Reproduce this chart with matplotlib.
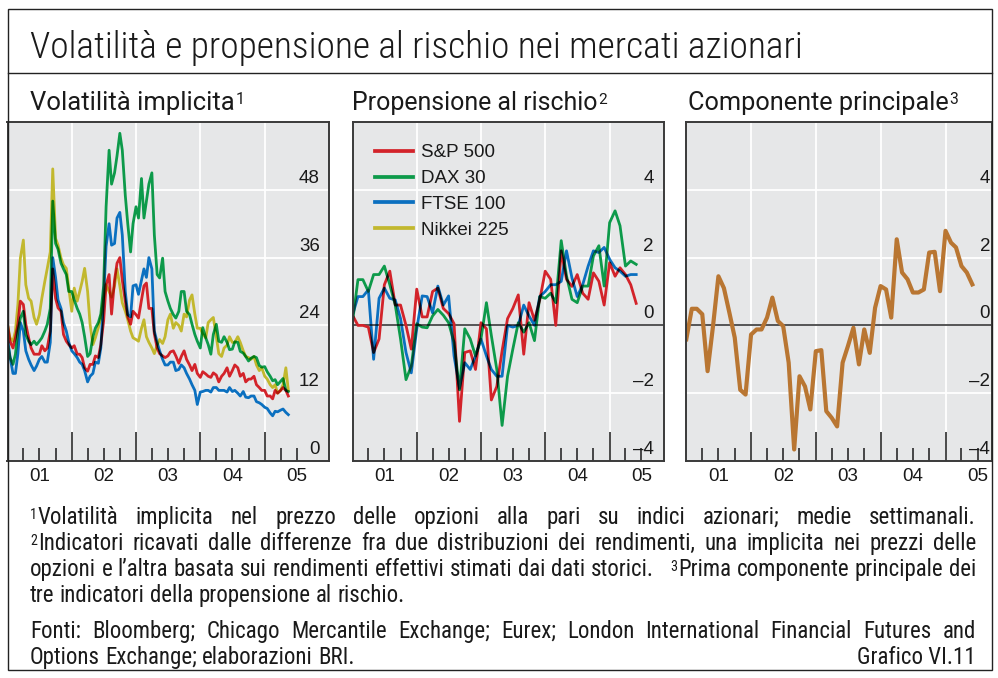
import numpy as np
import pandas as pd
import matplotlib
matplotlib.use("Agg")
import matplotlib.pyplot as plt
import matplotlib.dates as mdates
import matplotlib.transforms as mtransforms
import matplotlib.cbook as cbook
from matplotlib.ticker import FixedLocator
from matplotlib.patches import Rectangle
from matplotlib.lines import Line2D
from matplotlib import font_manager as fm

W, H = 998, 678

# ---------------- data ----------------
vol_dates = pd.date_range("2001-01-01", periods=106, freq="SMS")
sp_vol = [24.2, 21.2, 20, 21.8, 24.2, 28.3, 27.7, 24.2, 21.8, 20, 18.9, 18.9, 18.9, 20.4, 19.5, 20, 23, 34, 28.8, 27.1, 26.5, 22.4, 21.2, 20.6,
          20, 20.4, 18.9, 18.9, 18.3, 16.5, 15.9, 17.1, 17.1, 18.6, 18.3, 20.6, 24.8, 31.2, 33,
          26, 32, 35, 36, 32, 28.3, 25.5, 24.2, 26.5, 25.9, 25.3, 28.5, 31, 31.5, 27, 27, 22.5, 20, 19, 18.6,
          18.3, 18.6, 19.3, 19.5, 18.6, 17.3, 18.5, 19.5, 18, 17, 16, 17.1, 15.5, 14.8, 15.8, 15.4, 15, 14.8, 15.6, 15.2, 14, 15,
          15.5, 16.5, 15, 16, 17, 16.5, 15, 15.5, 14, 14.5, 14.5, 15, 13.5, 13, 12.5, 12.5, 11.5, 11.5, 11, 12.5, 12, 12.5, 13, 12.5, 11.5]
dax_vol = [21, 18.3, 17.1, 18.9, 23, 25.3, 26.5, 22.4, 21.2, 20.6, 21.2, 20.6, 21.2, 21.8, 23, 24.2, 27, 46, 38.5, 37.5, 35, 34, 33, 30,
           30, 28.5, 27, 26, 24.5, 22, 18.5, 19, 22, 23.5, 24.5, 26, 31, 45, 55,
           49, 51, 54, 58, 55, 47, 42, 37, 42, 45, 43, 50, 43, 46, 49, 51,
           40, 33, 32.4, 35.9, 30, 28.3, 27, 25.9, 25.3, 26.5, 30, 30, 26.5, 25.9, 24.2, 22.4, 21.2, 20, 23.6, 21.8, 20.6, 18.9, 22.4, 24.2, 21.2, 21,
           22, 21, 19.7, 19.8, 21.1, 21, 19.4, 19.1, 18.5, 17.7, 18.2, 18.5, 18.3, 16.9, 16.6, 16.7, 15.8, 15, 14.2, 14.4, 13.5, 14.1, 14.6, 12.5, 12.3]
ftse_vol = [21.8, 18.5, 15.5, 15.5, 19, 24.5, 23, 19.5, 18, 17, 16, 16.8, 18, 18.5, 17.5, 17.5, 21, 36, 32.5, 28.5, 27, 24.5, 23, 21,
            19.5, 19, 18.3, 17.5, 17.1, 16, 14, 15, 15.5, 17.5, 17.3, 20, 29, 38, 42,
            38.2, 38.5, 43, 44, 40, 30, 25.9, 25.5, 31, 31.2, 29.5, 32, 34, 32.5, 36, 34, 23,
            21, 19.5, 18, 17, 17, 17.5, 17.5, 16, 16.2, 17, 16.5, 15.5, 14.5, 13.5, 12.5, 10, 12.2, 12.3, 12.5, 12.5, 12.2, 13, 13, 12.5, 12.5,
            12.5, 12.2, 13, 12.3, 12.5, 12, 11.5, 12.3, 11.3, 11.2, 11.5, 11.5, 10.5, 10.3, 10, 9.5, 9.3, 8.5, 8, 8.8, 8.7, 9, 9.2, 8.6, 8.2]
nikkei_vol = [24.2, 21.8, 21.2, 23, 27.7, 35.9, 39.1, 31.2, 28.8, 28.3, 25.4, 24.2, 25.9, 28.8, 31.8, 34.1, 37, 51.7, 39.4, 38.2, 35.9, 34.7, 34.1, 30.6,
              26.5, 30.6, 28.3, 30, 31.8, 34.1, 30, 24.2, 20.6, 21.8, 23.6, 25.4, 28.8, 31.2,
              30, 29, 31, 34, 31, 28, 26.5, 25, 23, 21.8, 21.5, 21.2, 23.5, 25, 22, 21, 20, 19, 20.5, 21.5,
              20.8, 22, 25, 26, 23.5, 24.5, 24, 23, 26, 25.5, 28.5, 29.4, 26, 23.5, 23.5, 22.5, 21.8, 24.5, 25, 25.4,
              22, 19, 18.5, 20, 20.5, 22, 21, 21, 22, 21, 19.5, 18.5, 18.3, 18, 18.5, 17, 16, 16.5, 15, 14.5,
              13.5, 13, 13.5, 12, 12.5, 13.5, 16.5, 12.5]

risk_dates = pd.date_range("2001-01-01", periods=54, freq="MS")
sp_risk = [0.3, 0.0, 0.0, -0.05, -0.8, -0.4, 1.2, 1.6, 0.6, 0.6, 0.0, -0.7, 1.07, 0.25, 0.25, 1.0, 1.1, 0.5, 0.35, 0.05,
           -2.83, -0.8, -0.75, -1.3, 0.08, -0.1, -2.2, -1.8,
           -0.75, 0.2, 0.5, 0.9, -0.85, 0.67, 0.15, 0.75, 1.6, 1.36, 0.0, 2.2, 1.36, 1.15, 1.5, 0.95, 0.77, 1.55, 1.3, 0.6,
           1.85, 1.45, 1.7, 1.5, 1.2, 0.65]
dax_risk = [0.1, 1.35, 1.35, 1.0, 1.5, 1.5, 1.75, 1.2, 0.6, -0.4, -1.6, -1.2, 0.05, -0.05, -0.07, 0.28, 0.47, 0.3, 0.08, -0.5,
            -1.9, -0.1, -0.4, -0.9, -0.4, 0.67, -0.3, -1.3, -2.95, -1.5, -0.7, 0.08, -0.2, 0.08, -0.45, 0.85, 0.8, 0.95, 0.67,
            2.5, 1.46, 0.77, 0.67, 1.16, 1.16, 2.05, 2.35, 1.16, 3.03, 3.38, 2.94, 1.75, 1.9, 1.8]
ftse_risk = [0.3, 0.85, 0.85, 1.05, -1.0, 0.8, 1.1, 0.8, 0.75, 0.2, -0.8, -1.4, -0.1, 0.87, 0.85, 0.37, 1.16, 0.6, 0.87, -0.9,
             -1.85, -1.1, -1.3, -0.9, -0.4, -0.9, -1.3, -1.5, -1.5, 0.0, -0.05, 0.0, 0.6, 0.28, 0.0, 0.85, 1.0, 1.2, 1.2,
             1.3, 2.2, 1.4, 0.85, 1.2, 1.75, 2.2, 2.15, 2.3, 1.95, 1.7, 1.6, 1.45, 1.5, 1.5]
first_component = [-0.41, 0.49, 0.49, 0.33, -1.35, 0.0, 1.45, 1.1, 0.37, -0.36, -1.9, -2.04, -0.27, -0.12, -0.12, 0.23, 0.82, 0.13,
                   -0.02, -1.1, -3.66, -1.5, -1.8, -2.48, -0.76, -0.73, -2.53, -2.73, -2.98, -1.1, -0.61, -0.07, -1.15, -0.12,
                   -0.81, 0.52, 1.16, 1.06, 0.23, 2.54, 1.56, 1.36, 0.97, 0.97, 1.06, 2.15, 2.17, 1.01, 2.79, 2.44, 2.3, 1.75,
                   1.56, 1.21]

year_labels = ["01", "02", "03", "04", "05"]
vol_ticks = [0, 12, 24, 36, 48]
risk_ticks = [-4, -2, 0, 2, 4]
series_names = ["S&P 500", "DAX 30", "FTSE 100", "Nikkei 225"]

title = "Volatilità e propensione al rischio nei mercati azionari"
subtitles = [("Volatilità implicita", "1"), ("Propensione al rischio", "2"), ("Componente principale", "3")]

# ---------------- style ----------------
C_RED = "#d3232a"
C_GREEN = "#0d9a4a"
C_BLUE = "#0b70c0"
C_YEL = "#c2b82e"
C_ORANGE = "#b97632"
BG = "#e6e7e8"
SPINE = "#3a3a3a"
INK = "#1a1a1a"

avail = {}
for f in fm.fontManager.ttflist:
    avail.setdefault(f.name, set()).add(f.weight)


def pick(*names):
    for n in names:
        if n in avail:
            return n
    return "DejaVu Sans"


def has_light(name):
    return any(w in (300, "light") for w in avail.get(name, []))


REG = pick("Liberation Sans", "Roboto", "DejaVu Sans")
NARROW = pick("Roboto Condensed", "Liberation Sans Narrow", "Open Sans Condensed", "Liberation Sans")
HEAD = pick("Roboto", "Liberation Sans")
TITLE_FONT = NARROW
TITLE_WEIGHT = 300 if has_light(NARROW) else 400

plt.rcParams["font.family"] = [REG, "DejaVu Sans"]

fig = plt.figure(figsize=(W / 100, H / 100), dpi=100)
renderer = fig.canvas.get_renderer()
PIX = mtransforms.IdentityTransform()

# ---- ink-overprint (multiply) look for the chart lines, as in the printed original ----
_last_slices = {}
_orig_slices = getattr(cbook, "_get_nonzero_slices", None)
if _orig_slices is not None:
    def _recording_slices(buf):
        s = _orig_slices(buf)
        _last_slices["s"] = s
        return s
    cbook._get_nonzero_slices = _recording_slices
_bg_rgb = np.array(matplotlib.colors.to_rgb(BG))


def multiply_filter(img, dpi):
    try:
        sy, sx = _last_slices["s"]
        base = np.asarray(fig.canvas.get_renderer().buffer_rgba())
        region = base[sy, sx, :3].astype(float) / 255.0
        if region.shape[:2] != img.shape[:2]:
            return img, 0, 0
        factor = np.clip(region / _bg_rgb, 0, 1)
        out = img.copy()
        out[..., :3] = img[..., :3] * factor
        return out, 0, 0
    except Exception:
        return img, 0, 0


def ptext(x, ytop, s, **kw):
    """Text positioned in output pixels (y measured from the top)."""
    return fig.text(x, H - ytop, s, transform=PIX, **kw)


def twidth(s, size, family, weight=400):
    t = fig.text(0, 0, s, fontsize=size, family=family, weight=weight, transform=PIX)
    w = t.get_window_extent(renderer).width
    t.remove()
    return w


def px_axes(l, t, r, b):
    return fig.add_axes([l / W, 1 - b / H, (r - l) / W, (b - t) / H])


d = lambda s: mdates.date2num(pd.Timestamp(s))
quarters = [d(f"{y}-{m:02d}-01") for y in range(2001, 2006) for m in (4, 7, 10)]
quarters = [q for q in quarters if q <= d("2005-07-01")]


def style_axes(ax, x_end, ylim, grid_vals, label_vals, label_x, zero=False):
    ax.set_facecolor(BG)
    ax.set_xlim(d("2001-01-01"), x_end)
    ax.set_ylim(*ylim)
    for sp in ax.spines.values():
        sp.set_color(SPINE)
        sp.set_linewidth(1.4)
    ax.xaxis.set_major_locator(FixedLocator([d(f"{y}-01-01") for y in range(2002, 2006)]))
    ax.xaxis.set_minor_locator(FixedLocator(quarters))
    ax.tick_params(axis="x", which="major", direction="in", length=21, width=1.1, color=INK,
                   labelbottom=False, bottom=True, top=False)
    ax.tick_params(axis="x", which="minor", direction="in", length=9.5, width=1.1, color=INK,
                   labelbottom=False, bottom=True, top=False)
    ax.set_yticks(grid_vals)
    ax.tick_params(axis="y", left=False, right=False, labelleft=False)
    ax.grid(axis="x", which="major", color="white", lw=1.3)
    ax.grid(axis="y", color="white", lw=1.3)
    ax.set_axisbelow(True)
    if zero:
        ax.axhline(0, color="#555555", lw=1.4, zorder=1.5)
    off = mtransforms.offset_copy(ax.transData, fig=fig, y=7, units="dots")
    for v in label_vals:
        s = str(v).replace("-", "\u2013")
        ax.text(label_x, v, s, transform=off, ha="right", va="baseline", fontsize=13.5, color=INK,
                family=REG, clip_on=False, zorder=5)
    xoff = mtransforms.offset_copy(ax.get_xaxis_transform(), fig=fig, y=-15.5, units="dots")
    for i, lab in enumerate(year_labels):
        ax.text(d(f"{2001 + i}-07-02"), 0, lab, transform=xoff, ha="center", va="center", fontsize=13.5,
                color=INK, family=REG, clip_on=False)


# panel 1
ax1 = px_axes(7.5, 122, 329, 461)
style_axes(ax1, d("2006-01-01"), (0, 60), [12, 24, 36, 48], vol_ticks, d("2005-11-10"))
l_nk, = ax1.plot(vol_dates, nikkei_vol, color=C_YEL, lw=2.0, zorder=2)
l_sp, = ax1.plot(vol_dates, sp_vol, color=C_RED, lw=2.0, zorder=2.1)
l_ftse, = ax1.plot(vol_dates, ftse_vol, color=C_BLUE, lw=2.0, zorder=2.2)
l_dax, = ax1.plot(vol_dates, dax_vol, color=C_GREEN, lw=2.0, zorder=2.3)

# panel 2
ax2 = px_axes(352.5, 122, 664, 461)
style_axes(ax2, d("2005-11-06"), (-4, 6), [-2, 2, 4], risk_ticks, d("2005-09-09"), zero=True)
r_sp, = ax2.plot(risk_dates, sp_risk, color=C_RED, lw=2.0, zorder=2.1)
r_ftse, = ax2.plot(risk_dates, ftse_risk, color=C_BLUE, lw=2.0, zorder=2.2)
r_dax, = ax2.plot(risk_dates, dax_risk, color=C_GREEN, lw=2.0, zorder=2.3)

if _orig_slices is not None:
    for ln in (l_sp, l_ftse, l_dax, r_ftse, r_dax):
        ln.set_agg_filter(multiply_filter)

leg = ax2.legend([Line2D([], [], color=C_RED), Line2D([], [], color=C_GREEN),
                  Line2D([], [], color=C_BLUE), Line2D([], [], color=C_YEL)], series_names, loc="upper left",
                 bbox_to_anchor=(375 / W, 1 - 144 / H), bbox_transform=fig.transFigure,
                 frameon=False, fontsize=13.5, handlelength=2.05, handletextpad=0.38,
                 labelspacing=0.47, borderpad=0, borderaxespad=0)
for lh in leg.get_lines():
    lh.set_linewidth(2.7)
for t in leg.get_texts():
    t.set_color(INK)

# panel 3
ax3 = px_axes(686.3, 122, 992, 461)
style_axes(ax3, d("2005-09-20"), (-4, 6), [-2, 2, 4], risk_ticks, d("2005-09-09"), zero=True)
ax3.plot(risk_dates, first_component, color=C_ORANGE, lw=3.0, zorder=2.2)

# ---------------- frame & titles ----------------
fig.patches.append(Rectangle((7.5, H - 670), 992 - 7.5, 670 - 9, transform=PIX, fill=False,
                             edgecolor="#222222", lw=1.0))
fig.lines.append(Line2D([7.5, 992], [H - 73, H - 73], transform=PIX, color="#222222", lw=1.0))

tsize = 20 * 770 / twidth(title, 20, TITLE_FONT, TITLE_WEIGHT)
ptext(30, 58, title, fontsize=tsize, family=TITLE_FONT, weight=TITLE_WEIGHT, va="baseline", color=INK)

sub_x = [30, 352, 688]
sub_w = [204, 246, 260]
for (s, sup), x, wt in zip(subtitles, sub_x, sub_w):
    size = 16 * wt / twidth(s, 16, HEAD)
    ptext(x, 110, s, fontsize=size, family=HEAD, va="baseline", color=INK)
    ww = twidth(s, size, HEAD)
    ptext(x + ww + 1, 104, sup, fontsize=size * 0.62, family=HEAD, va="baseline", color=INK)

# ---------------- footnotes (justified) ----------------
lines = [
    ([("1", "Volatilità")] + "implicita nel prezzo delle opzioni alla pari su indici azionari; medie settimanali.".split(), True, 524),
    ([("2", "Indicatori")] + "ricavati dalle differenze fra due distribuzioni dei rendimenti, una implicita nei prezzi delle".split(), True, 550),
    ("opzioni e l’altra basata sui rendimenti effettivi stimati dai dati storici.".split() + ["", ""] + [("3", "Prima")] + "componente principale dei".split(), True, 576),
    ("tre indicatori della propensione al rischio.".split(), False, 602),
    ("Fonti: Bloomberg; Chicago Mercantile Exchange; Eurex; London International Financial Futures and".split(), True, 638),
    ("Options Exchange; elaborazioni BRI.".split(), False, 664),
]
X0, X1 = 30, 976


def word_w(wd, size):
    if isinstance(wd, tuple):
        return twidth(wd[0], size * 0.62, NARROW) + 1 + twidth(wd[1], size, NARROW)
    if wd == "":
        return 0
    return twidth(wd, size, NARROW)


def space_w(size):
    return twidth("a a", size, NARROW) - twidth("aa", size, NARROW)


base = 12.0
fits = []
for words, just, yb in lines:
    if just:
        nat = sum(word_w(w, base) for w in words) + space_w(base) * (len(words) - 1)
        fits.append(base * (X1 - X0) / nat)
FN = min(fits) * 0.995

for words, just, yb in lines:
    widths = [word_w(w, FN) for w in words]
    gaps = len(words) - 1
    gap = (X1 - X0 - sum(widths)) / gaps if just else space_w(FN)
    x = X0
    for w, ww in zip(words, widths):
        if isinstance(w, tuple):
            ptext(x, yb - 5, w[0], fontsize=FN * 0.62, family=NARROW, va="baseline", color=INK)
            x2 = x + twidth(w[0], FN * 0.62, NARROW) + 1
            ptext(x2, yb, w[1], fontsize=FN, family=NARROW, va="baseline", color=INK)
        elif w:
            ptext(x, yb, w, fontsize=FN, family=NARROW, va="baseline", color=INK)
        x += ww + gap

ptext(X1, 664, "Grafico VI.11", fontsize=FN, family=NARROW, va="baseline", ha="right", color=INK)

fig.savefig("out.png", dpi=100)
